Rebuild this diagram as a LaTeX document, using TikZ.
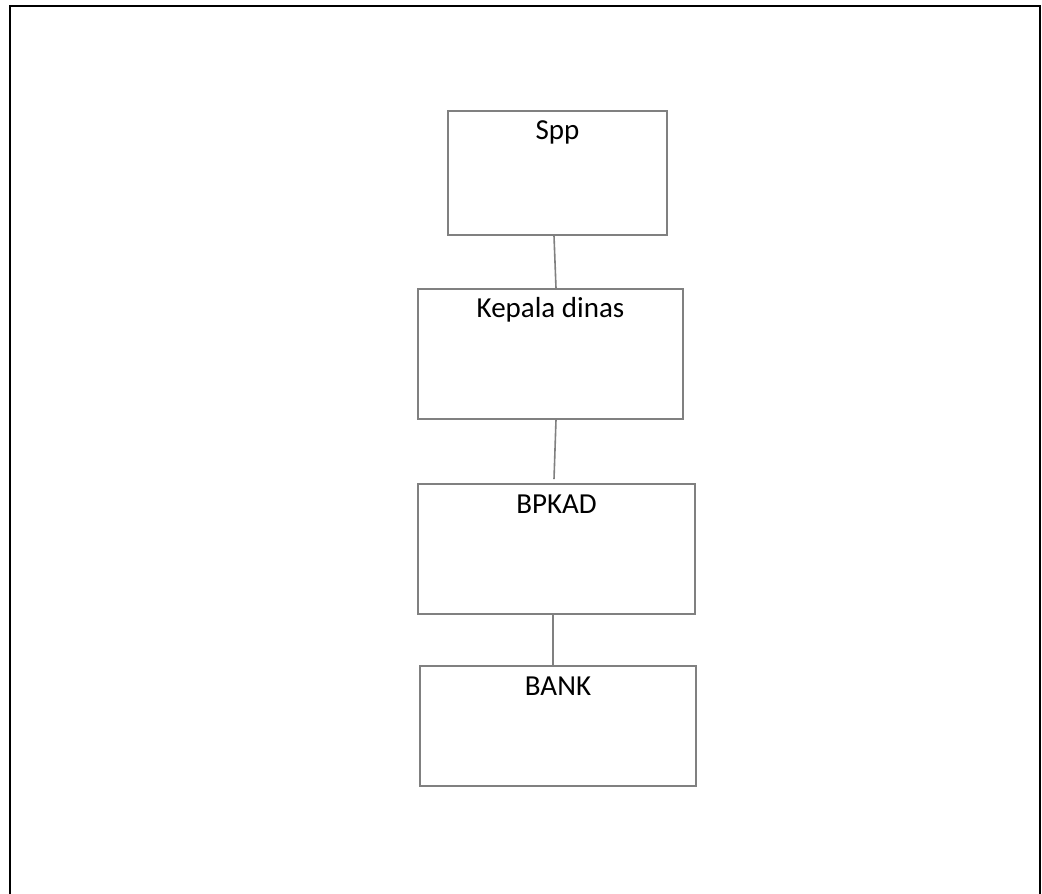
\documentclass[tikz,border=0pt]{standalone}
\usepackage{fontspec}
\setmainfont{Carlito}
\begin{document}
\begin{tikzpicture}[x=1pt,y=-1pt,
  box/.style={draw=black!50, line width=1.6pt, rectangle, inner sep=0pt, fill=white},
  link/.style={draw=black!50, line width=1.6pt},
  frame/.style={draw=black, line width=2.6pt},
  lbl/.style={anchor=base, font=\fontsize{29}{34}\selectfont, text=black}
]
\useasboundingbox (0,0) rectangle (1042,894);
\draw[frame] (10,894) -- (10,6) -- (1040,6) -- (1040,894);

\node[box, minimum width=219pt, minimum height=124pt] (spp) at (557.5,173) {};
\node[box, minimum width=265pt, minimum height=130pt] (kep) at (550.5,354) {};
\node[box, minimum width=277pt, minimum height=130pt] (bpk) at (556.5,549) {};
\node[box, minimum width=276pt, minimum height=120pt] (bank) at (558,726) {};

\node[lbl] (tspp) at ([yshift=-29pt]spp.north) {Spp};
\node[lbl] (tkep) at ([yshift=-29pt]kep.north) {Kepala dinas};
\node[lbl] (tbpk) at ([yshift=-30pt]bpk.north) {BPKAD};
\node[lbl] (tbank) at ([yshift=-30pt]bank.north) {BANK};

\draw[link] ([xshift=-3.5pt]spp.south) -- ([xshift=5.5pt]kep.north);
\draw[link] ([xshift=5.5pt]kep.south) -- ([xshift=-2.5pt,yshift=4pt]bpk.north);
\draw[link] ([xshift=-3.5pt]bpk.south) -- ([xshift=-5pt]bank.north);
\end{tikzpicture}
\end{document}
